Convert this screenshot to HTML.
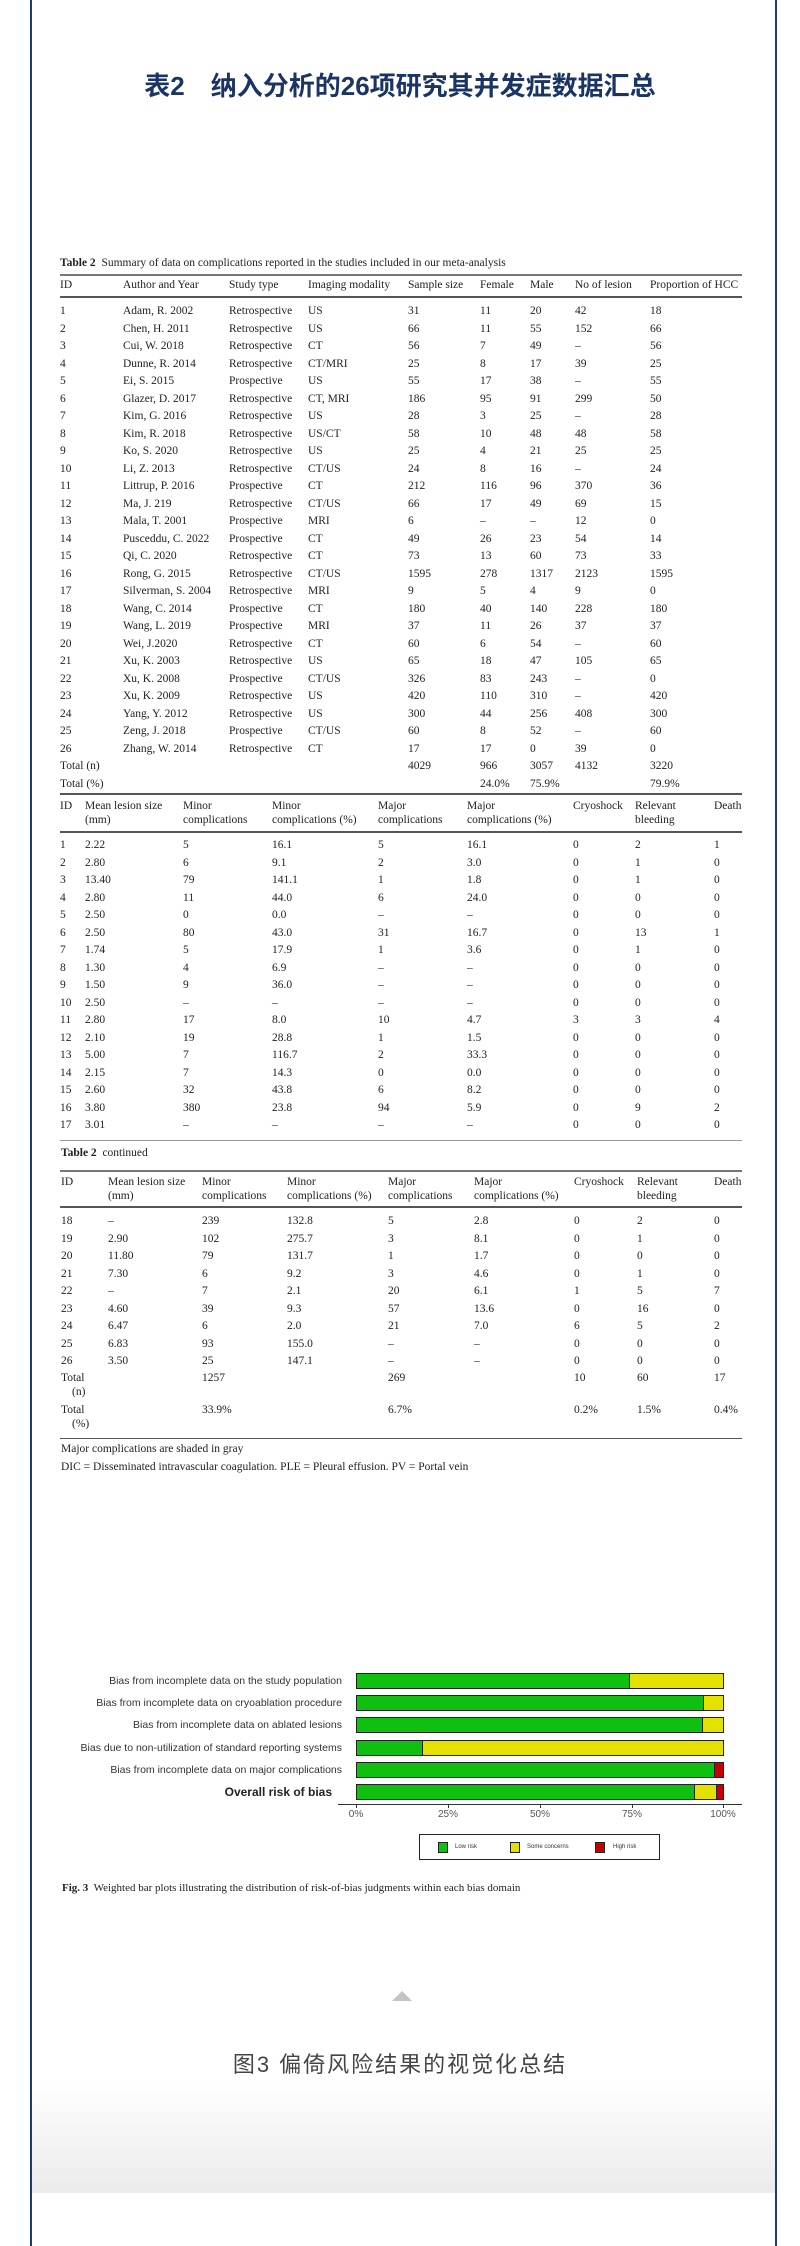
<!DOCTYPE html>
<html><head><meta charset="utf-8"><style>
*{margin:0;padding:0;box-sizing:border-box}
body{width:800px;height:2246px;position:relative;background:#fff;overflow:hidden;font-family:"Liberation Serif",serif;color:#222}
.bl{position:absolute;top:0;width:2px;height:2246px;background:#1c3a7c}
.t{position:absolute;font-size:11.5px;line-height:16px;white-space:nowrap}
.r{position:absolute;left:0;width:800px;height:16px}
.r span{position:absolute;top:0;font-size:11.5px;line-height:16px;white-space:nowrap}
.a span:nth-child(1){left:60px}.a span:nth-child(2){left:123px}.a span:nth-child(3){left:229px}.a span:nth-child(4){left:308px}.a span:nth-child(5){left:408px}.a span:nth-child(6){left:480px}.a span:nth-child(7){left:530px}.a span:nth-child(8){left:575px}.a span:nth-child(9){left:650px}
.b span:nth-child(1){left:60px}.b span:nth-child(2){left:85px}.b span:nth-child(3){left:183px}.b span:nth-child(4){left:272px}.b span:nth-child(5){left:378px}.b span:nth-child(6){left:467px}.b span:nth-child(7){left:573px}.b span:nth-child(8){left:635px}.b span:nth-child(9){left:714px}
.c span:nth-child(1){left:61px}.c span:nth-child(2){left:108px}.c span:nth-child(3){left:202px}.c span:nth-child(4){left:287px}.c span:nth-child(5){left:388px}.c span:nth-child(6){left:474px}.c span:nth-child(7){left:574px}.c span:nth-child(8){left:637px}.c span:nth-child(9){left:714px}
.hl{position:absolute;left:60px;width:682px;background:#555}
.lab{position:absolute;right:458px;font-family:"Liberation Sans",sans-serif;font-size:10.5px;line-height:14px;color:#333;white-space:nowrap}
.bar{position:absolute;left:356px;width:368px;height:16px;border:1px solid #222;display:flex}
.bar div{height:100%}
.g{background:#10c010}.y{background:#e4e000}.rd{background:#c80000}
.tk{position:absolute;top:1809px;font-family:"Liberation Sans",sans-serif;font-size:10px;color:#555;transform:translateX(-50%)}
</style></head><body>
<div class="bl" style="left:30px"></div><div class="bl" style="left:775px"></div>
<div style="position:absolute;left:0;width:800px;top:70px;text-align:center;font-family:'Liberation Sans','Noto Sans CJK SC',sans-serif;font-weight:bold;font-size:26px;line-height:32px;color:#1b3466">表2　纳入分析的26项研究其并发症数据汇总</div>

<div class="t" style="left:60px;top:255px"><b>Table 2</b>&nbsp; Summary of data on complications reported in the studies included in our meta-analysis</div>
<div class="hl" style="top:274px;height:2px;background:#777"></div>
<div class="r a" style="top:277px"><span>ID</span><span>Author and Year</span><span>Study type</span><span>Imaging modality</span><span>Sample size</span><span>Female</span><span>Male</span><span>No of lesion</span><span>Proportion of HCC</span></div>
<div class="hl" style="top:296px;height:2px"></div>
<div class="r a" style="top:303px"><span>1</span><span>Adam, R. 2002</span><span>Retrospective</span><span>US</span><span>31</span><span>11</span><span>20</span><span>42</span><span>18</span></div>
<div class="r a" style="top:320.5px"><span>2</span><span>Chen, H. 2011</span><span>Retrospective</span><span>US</span><span>66</span><span>11</span><span>55</span><span>152</span><span>66</span></div>
<div class="r a" style="top:338px"><span>3</span><span>Cui, W. 2018</span><span>Retrospective</span><span>CT</span><span>56</span><span>7</span><span>49</span><span>–</span><span>56</span></div>
<div class="r a" style="top:355.5px"><span>4</span><span>Dunne, R. 2014</span><span>Retrospective</span><span>CT/MRI</span><span>25</span><span>8</span><span>17</span><span>39</span><span>25</span></div>
<div class="r a" style="top:373px"><span>5</span><span>Ei, S. 2015</span><span>Prospective</span><span>US</span><span>55</span><span>17</span><span>38</span><span>–</span><span>55</span></div>
<div class="r a" style="top:390.5px"><span>6</span><span>Glazer, D. 2017</span><span>Retrospective</span><span>CT, MRI</span><span>186</span><span>95</span><span>91</span><span>299</span><span>50</span></div>
<div class="r a" style="top:408px"><span>7</span><span>Kim, G. 2016</span><span>Retrospective</span><span>US</span><span>28</span><span>3</span><span>25</span><span>–</span><span>28</span></div>
<div class="r a" style="top:425.5px"><span>8</span><span>Kim, R. 2018</span><span>Retrospective</span><span>US/CT</span><span>58</span><span>10</span><span>48</span><span>48</span><span>58</span></div>
<div class="r a" style="top:443px"><span>9</span><span>Ko, S. 2020</span><span>Retrospective</span><span>US</span><span>25</span><span>4</span><span>21</span><span>25</span><span>25</span></div>
<div class="r a" style="top:460.5px"><span>10</span><span>Li, Z. 2013</span><span>Retrospective</span><span>CT/US</span><span>24</span><span>8</span><span>16</span><span>–</span><span>24</span></div>
<div class="r a" style="top:478px"><span>11</span><span>Littrup, P. 2016</span><span>Prospective</span><span>CT</span><span>212</span><span>116</span><span>96</span><span>370</span><span>36</span></div>
<div class="r a" style="top:495.5px"><span>12</span><span>Ma, J. 219</span><span>Retrospective</span><span>CT/US</span><span>66</span><span>17</span><span>49</span><span>69</span><span>15</span></div>
<div class="r a" style="top:513px"><span>13</span><span>Mala, T. 2001</span><span>Prospective</span><span>MRI</span><span>6</span><span>–</span><span>–</span><span>12</span><span>0</span></div>
<div class="r a" style="top:530.5px"><span>14</span><span>Pusceddu, C. 2022</span><span>Prospective</span><span>CT</span><span>49</span><span>26</span><span>23</span><span>54</span><span>14</span></div>
<div class="r a" style="top:548px"><span>15</span><span>Qi, C. 2020</span><span>Retrospective</span><span>CT</span><span>73</span><span>13</span><span>60</span><span>73</span><span>33</span></div>
<div class="r a" style="top:565.5px"><span>16</span><span>Rong, G. 2015</span><span>Retrospective</span><span>CT/US</span><span>1595</span><span>278</span><span>1317</span><span>2123</span><span>1595</span></div>
<div class="r a" style="top:583px"><span>17</span><span>Silverman, S. 2004</span><span>Retrospective</span><span>MRI</span><span>9</span><span>5</span><span>4</span><span>9</span><span>0</span></div>
<div class="r a" style="top:600.5px"><span>18</span><span>Wang, C. 2014</span><span>Prospective</span><span>CT</span><span>180</span><span>40</span><span>140</span><span>228</span><span>180</span></div>
<div class="r a" style="top:618px"><span>19</span><span>Wang, L. 2019</span><span>Prospective</span><span>MRI</span><span>37</span><span>11</span><span>26</span><span>37</span><span>37</span></div>
<div class="r a" style="top:635.5px"><span>20</span><span>Wei, J.2020</span><span>Retrospective</span><span>CT</span><span>60</span><span>6</span><span>54</span><span>–</span><span>60</span></div>
<div class="r a" style="top:653px"><span>21</span><span>Xu, K. 2003</span><span>Retrospective</span><span>US</span><span>65</span><span>18</span><span>47</span><span>105</span><span>65</span></div>
<div class="r a" style="top:670.5px"><span>22</span><span>Xu, K. 2008</span><span>Prospective</span><span>CT/US</span><span>326</span><span>83</span><span>243</span><span>–</span><span>0</span></div>
<div class="r a" style="top:688px"><span>23</span><span>Xu, K. 2009</span><span>Retrospective</span><span>US</span><span>420</span><span>110</span><span>310</span><span>–</span><span>420</span></div>
<div class="r a" style="top:705.5px"><span>24</span><span>Yang, Y. 2012</span><span>Retrospective</span><span>US</span><span>300</span><span>44</span><span>256</span><span>408</span><span>300</span></div>
<div class="r a" style="top:723px"><span>25</span><span>Zeng, J. 2018</span><span>Prospective</span><span>CT/US</span><span>60</span><span>8</span><span>52</span><span>–</span><span>60</span></div>
<div class="r a" style="top:740.5px"><span>26</span><span>Zhang, W. 2014</span><span>Retrospective</span><span>CT</span><span>17</span><span>17</span><span>0</span><span>39</span><span>0</span></div>
<div class="r a" style="top:758px"><span>Total (n)</span><span></span><span></span><span></span><span>4029</span><span>966</span><span>3057</span><span>4132</span><span>3220</span></div>
<div class="r a" style="top:775.5px"><span>Total (%)</span><span></span><span></span><span></span><span></span><span>24.0%</span><span>75.9%</span><span></span><span>79.9%</span></div>
<div class="hl" style="top:793px;height:2px"></div>

<div class="r b" style="top:798px"><span>ID</span><span>Mean lesion size</span><span>Minor</span><span>Minor</span><span>Major</span><span>Major</span><span>Cryoshock</span><span>Relevant</span><span>Death</span></div>
<div class="r b" style="top:812px"><span></span><span>(mm)</span><span>complications</span><span>complications (%)</span><span>complications</span><span>complications (%)</span><span></span><span>bleeding</span><span></span></div>
<div class="hl" style="top:831px;height:2px"></div>
<div class="r b" style="top:837px"><span>1</span><span>2.22</span><span>5</span><span>16.1</span><span>5</span><span>16.1</span><span>0</span><span>2</span><span>1</span></div>
<div class="r b" style="top:854.5px"><span>2</span><span>2.80</span><span>6</span><span>9.1</span><span>2</span><span>3.0</span><span>0</span><span>1</span><span>0</span></div>
<div class="r b" style="top:872px"><span>3</span><span>13.40</span><span>79</span><span>141.1</span><span>1</span><span>1.8</span><span>0</span><span>1</span><span>0</span></div>
<div class="r b" style="top:889.5px"><span>4</span><span>2.80</span><span>11</span><span>44.0</span><span>6</span><span>24.0</span><span>0</span><span>0</span><span>0</span></div>
<div class="r b" style="top:907px"><span>5</span><span>2.50</span><span>0</span><span>0.0</span><span>–</span><span>–</span><span>0</span><span>0</span><span>0</span></div>
<div class="r b" style="top:924.5px"><span>6</span><span>2.50</span><span>80</span><span>43.0</span><span>31</span><span>16.7</span><span>0</span><span>13</span><span>1</span></div>
<div class="r b" style="top:942px"><span>7</span><span>1.74</span><span>5</span><span>17.9</span><span>1</span><span>3.6</span><span>0</span><span>1</span><span>0</span></div>
<div class="r b" style="top:959.5px"><span>8</span><span>1.30</span><span>4</span><span>6.9</span><span>–</span><span>–</span><span>0</span><span>0</span><span>0</span></div>
<div class="r b" style="top:977px"><span>9</span><span>1.50</span><span>9</span><span>36.0</span><span>–</span><span>–</span><span>0</span><span>0</span><span>0</span></div>
<div class="r b" style="top:994.5px"><span>10</span><span>2.50</span><span>–</span><span>–</span><span>–</span><span>–</span><span>0</span><span>0</span><span>0</span></div>
<div class="r b" style="top:1012px"><span>11</span><span>2.80</span><span>17</span><span>8.0</span><span>10</span><span>4.7</span><span>3</span><span>3</span><span>4</span></div>
<div class="r b" style="top:1029.5px"><span>12</span><span>2.10</span><span>19</span><span>28.8</span><span>1</span><span>1.5</span><span>0</span><span>0</span><span>0</span></div>
<div class="r b" style="top:1047px"><span>13</span><span>5.00</span><span>7</span><span>116.7</span><span>2</span><span>33.3</span><span>0</span><span>0</span><span>0</span></div>
<div class="r b" style="top:1064.5px"><span>14</span><span>2.15</span><span>7</span><span>14.3</span><span>0</span><span>0.0</span><span>0</span><span>0</span><span>0</span></div>
<div class="r b" style="top:1082px"><span>15</span><span>2.60</span><span>32</span><span>43.8</span><span>6</span><span>8.2</span><span>0</span><span>0</span><span>0</span></div>
<div class="r b" style="top:1099.5px"><span>16</span><span>3.80</span><span>380</span><span>23.8</span><span>94</span><span>5.9</span><span>0</span><span>9</span><span>2</span></div>
<div class="r b" style="top:1117px"><span>17</span><span>3.01</span><span>–</span><span>–</span><span>–</span><span>–</span><span>0</span><span>0</span><span>0</span></div>
<div class="hl" style="top:1140px;height:1px;background:#999"></div>
<div class="t" style="left:61px;top:1145px"><b>Table 2</b>&nbsp; continued</div>
<div class="hl" style="top:1170px;height:2px;background:#777"></div>
<div class="r c" style="top:1174px"><span>ID</span><span>Mean lesion size</span><span>Minor</span><span>Minor</span><span>Major</span><span>Major</span><span>Cryoshock</span><span>Relevant</span><span>Death</span></div>
<div class="r c" style="top:1188px"><span></span><span>(mm)</span><span>complications</span><span>complications (%)</span><span>complications</span><span>complications (%)</span><span></span><span>bleeding</span><span></span></div>
<div class="hl" style="top:1206px;height:2px"></div>
<div class="r c" style="top:1213px"><span>18</span><span>–</span><span>239</span><span>132.8</span><span>5</span><span>2.8</span><span>0</span><span>2</span><span>0</span></div>
<div class="r c" style="top:1230.5px"><span>19</span><span>2.90</span><span>102</span><span>275.7</span><span>3</span><span>8.1</span><span>0</span><span>1</span><span>0</span></div>
<div class="r c" style="top:1248px"><span>20</span><span>11.80</span><span>79</span><span>131.7</span><span>1</span><span>1.7</span><span>0</span><span>0</span><span>0</span></div>
<div class="r c" style="top:1265.5px"><span>21</span><span>7.30</span><span>6</span><span>9.2</span><span>3</span><span>4.6</span><span>0</span><span>1</span><span>0</span></div>
<div class="r c" style="top:1283px"><span>22</span><span>–</span><span>7</span><span>2.1</span><span>20</span><span>6.1</span><span>1</span><span>5</span><span>7</span></div>
<div class="r c" style="top:1300.5px"><span>23</span><span>4.60</span><span>39</span><span>9.3</span><span>57</span><span>13.6</span><span>0</span><span>16</span><span>0</span></div>
<div class="r c" style="top:1318px"><span>24</span><span>6.47</span><span>6</span><span>2.0</span><span>21</span><span>7.0</span><span>6</span><span>5</span><span>2</span></div>
<div class="r c" style="top:1335.5px"><span>25</span><span>6.83</span><span>93</span><span>155.0</span><span>–</span><span>–</span><span>0</span><span>0</span><span>0</span></div>
<div class="r c" style="top:1353px"><span>26</span><span>3.50</span><span>25</span><span>147.1</span><span>–</span><span>–</span><span>0</span><span>0</span><span>0</span></div>
<div class="r c" style="top:1370px"><span>Total</span><span></span><span>1257</span><span></span><span>269</span><span></span><span>10</span><span>60</span><span>17</span></div>
<div class="t" style="left:72px;top:1384px">(n)</div>
<div class="r c" style="top:1402px"><span>Total</span><span></span><span>33.9%</span><span></span><span>6.7%</span><span></span><span>0.2%</span><span>1.5%</span><span>0.4%</span></div>
<div class="t" style="left:72px;top:1416px">(%)</div>
<div class="hl" style="top:1438px;height:1px"></div>
<div class="t" style="left:61px;top:1441px">Major complications are shaded in gray</div>
<div class="t" style="left:61px;top:1459px">DIC = Disseminated intravascular coagulation. PLE = Pleural effusion. PV = Portal vein</div>

<div class="lab" style="top:1674px">Bias from incomplete data on the study population</div>
<div class="lab" style="top:1696px">Bias from incomplete data on cryoablation procedure</div>
<div class="lab" style="top:1718px">Bias from incomplete data on ablated lesions</div>
<div class="lab" style="top:1741px">Bias due to non-utilization of standard reporting systems</div>
<div class="lab" style="top:1763px">Bias from incomplete data on major complications</div>
<div class="lab" style="top:1784px;right:468px;font-weight:bold;font-size:12px;line-height:16px;color:#222">Overall risk of bias</div>
<div class="bar" style="top:1673px"><div class="g" style="width:74.5%;border-right:1px solid #222"></div><div class="y" style="flex:1"></div></div>
<div class="bar" style="top:1695px"><div class="g" style="width:94.7%;border-right:1px solid #222"></div><div class="y" style="flex:1"></div></div>
<div class="bar" style="top:1717px"><div class="g" style="width:94.6%;border-right:1px solid #222"></div><div class="y" style="flex:1"></div></div>
<div class="bar" style="top:1740px"><div class="g" style="width:18%;border-right:1px solid #222"></div><div class="y" style="flex:1"></div></div>
<div class="bar" style="top:1762px"><div class="g" style="width:97.9%;border-right:1px solid #222"></div><div class="rd" style="flex:1"></div></div>
<div class="bar" style="top:1784px"><div class="g" style="width:92.3%;border-right:1px solid #222"></div><div class="y" style="width:6%;border-right:1px solid #222"></div><div class="rd" style="flex:1"></div></div>
<div style="position:absolute;left:338px;top:1804px;width:404px;height:1px;background:#333"></div>
<div style="position:absolute;left:356px;top:1804px;width:1px;height:4px;background:#333"></div>
<div style="position:absolute;left:448px;top:1804px;width:1px;height:4px;background:#333"></div>
<div style="position:absolute;left:540px;top:1804px;width:1px;height:4px;background:#333"></div>
<div style="position:absolute;left:632px;top:1804px;width:1px;height:4px;background:#333"></div>
<div style="position:absolute;left:723px;top:1804px;width:1px;height:4px;background:#333"></div>
<div class="tk" style="left:356px">0%</div><div class="tk" style="left:448px">25%</div><div class="tk" style="left:540px">50%</div><div class="tk" style="left:632px">75%</div><div class="tk" style="left:723px">100%</div>
<div style="position:absolute;left:419px;top:1834px;width:241px;height:26px;border:1px solid #222;font-family:'Liberation Sans',sans-serif;font-size:6px;color:#333">
<div style="position:absolute;left:18px;top:7px;width:10px;height:11px;border:1px solid #222" class="g"></div><div style="position:absolute;left:35px;top:9px">Low risk</div>
<div style="position:absolute;left:90px;top:7px;width:10px;height:11px;border:1px solid #222" class="y"></div><div style="position:absolute;left:107px;top:9px">Some concerns</div>
<div style="position:absolute;left:175px;top:7px;width:10px;height:11px;border:1px solid #222" class="rd"></div><div style="position:absolute;left:193px;top:9px">High risk</div>
</div>
<div class="t" style="left:62px;top:1880px;font-size:11px"><b>Fig. 3</b>&nbsp; Weighted bar plots illustrating the distribution of risk-of-bias judgments within each bias domain</div>

<div style="position:absolute;left:392px;top:1991px;width:0;height:0;border-left:10px solid transparent;border-right:10px solid transparent;border-bottom:10px solid #c4c4c4"></div>
<div style="position:absolute;left:32px;top:2080px;width:743px;height:113px;background:linear-gradient(#fff,#ebebeb)"></div>
<div style="position:absolute;left:0;width:800px;top:2050px;text-align:center;font-family:'Liberation Sans','Noto Sans CJK SC',sans-serif;font-size:22px;line-height:30px;letter-spacing:2px;color:#444">图3 偏倚风险结果的视觉化总结</div>
</body></html>
